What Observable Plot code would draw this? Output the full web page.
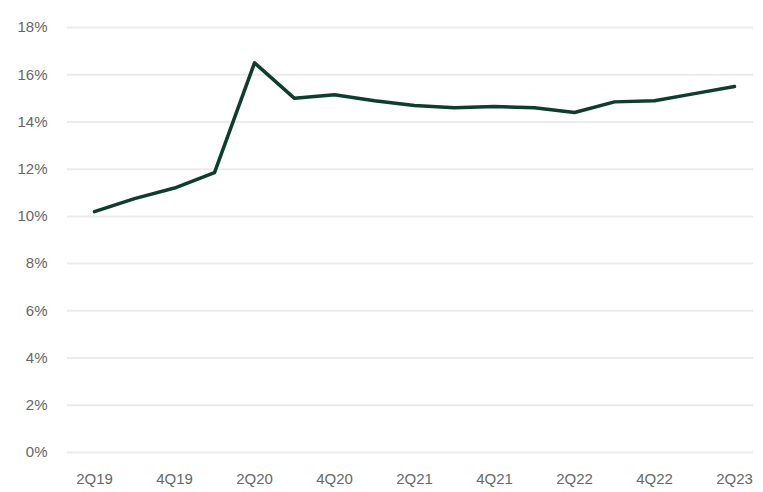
<!DOCTYPE html>
<html>
<head>
<meta charset="utf-8">
<script src="https://cdn.jsdelivr.net/npm/d3@7"></script>
<script src="https://cdn.jsdelivr.net/npm/@observablehq/plot@0.6"></script>
<style>
  html, body { margin: 0; padding: 0; background: #fff; }
  #chart { width: 763px; height: 492px; }
</style>
</head>
<body>
<div id="chart"></div>
<script>
const quarters = ["2Q19","3Q19","4Q19","1Q20","2Q20","3Q20","4Q20","1Q21","2Q21","3Q21","4Q21","1Q22","2Q22","3Q22","4Q22","1Q23","2Q23"];
const values = [10.2, 10.75, 11.2, 11.85, 16.5, 15.0, 15.15, 14.9, 14.7, 14.6, 14.65, 14.6, 14.4, 14.85, 14.9, 15.2, 15.5];
const xTickLabels = ["2Q19","4Q19","2Q20","4Q20","2Q21","4Q21","2Q22","4Q22","2Q23"];
const yTicks = [0, 2, 4, 6, 8, 10, 12, 14, 16, 18];

const data = quarters.map((q, i) => ({ q, v: values[i] }));

const chart = Plot.plot({
  width: 763,
  height: 492,
  marginLeft: 67,
  marginRight: 10,
  marginTop: 27,
  marginBottom: 40,
  style: { fontFamily: "Liberation Sans, Arial, sans-serif", fontSize: "15px", color: "#666", background: "#fff" },
  x: { type: "point", domain: quarters, range: [92, 736], padding: 0, label: null },
  y: { domain: [0, 18], label: null },
  marks: [
    Plot.ruleY(yTicks, { stroke: "#ebebeb", strokeWidth: 2 }),
    Plot.axisY({ ticks: yTicks, tickSize: 0, tickPadding: 20, tickFormat: d => d + "%", fill: "#666", fontSize: 15, label: null }),
    Plot.axisX({ ticks: xTickLabels, tickSize: 0, tickPadding: 21, fill: "#666", fontSize: 15, label: null }),
    Plot.line(data, { x: "q", y: "v", stroke: "#0e3d2f", strokeWidth: 3.5, strokeLinejoin: "round" })
  ]
});
document.getElementById("chart").appendChild(chart);
</script>
</body>
</html>
